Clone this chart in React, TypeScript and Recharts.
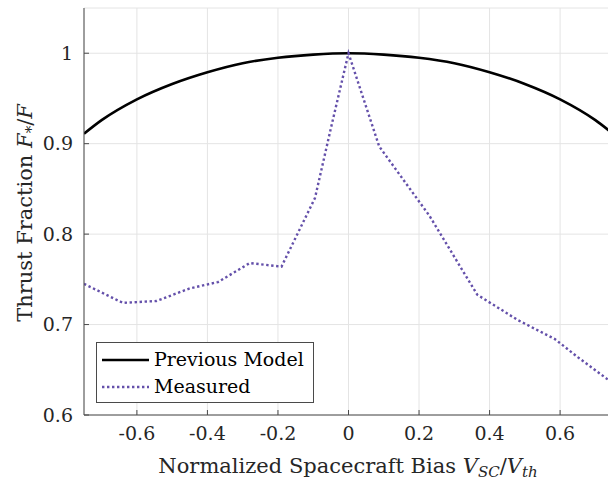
import React from "react";
import { LineChart, Line, XAxis, YAxis, CartesianGrid, Legend } from "recharts";

// values
const modelBias = [-0.75, -0.7, -0.6, -0.5, -0.4, -0.3, -0.2, -0.1, 0, 0.1, 0.2, 0.3, 0.4, 0.5, 0.6, 0.7, 0.75];
const modelFraction = [0.911, 0.926, 0.949, 0.966, 0.979, 0.989, 0.995, 0.9985, 1, 0.9985, 0.995, 0.989, 0.979, 0.966, 0.949, 0.926, 0.911];

const measuredBias = [-0.75, -0.64, -0.545, -0.45, -0.37, -0.28, -0.19, -0.095, -0.05, 0, 0.087, 0.23, 0.365, 0.48, 0.585, 0.65, 0.75];
const measuredFraction = [0.745, 0.724, 0.726, 0.74, 0.747, 0.768, 0.764, 0.84, 0.917, 1.0, 0.897, 0.82, 0.733, 0.705, 0.684, 0.664, 0.635];

const xTicks = [-0.6, -0.4, -0.2, 0, 0.2, 0.4, 0.6];
const yTicks = [0.6, 0.7, 0.8, 0.9, 1];
const seriesNames = ["Previous Model", "Measured"];

const modelData = modelBias.map((x, i) => ({ x, y: modelFraction[i] }));
const measuredData = measuredBias.map((x, i) => ({ x, y: measuredFraction[i] }));

const FONT = "DejaVu Serif";
const AXIS = "#4a4a4a";
const TEXT = "#262626";
const PURPLE = "#6450aa";

const fmtTick = (v: number) => (v === 1 ? "1" : v === 0 ? "0" : v.toFixed(1));

function XLabel() {
  return (
    <text x={348} y={473} textAnchor="middle" fontFamily={FONT} fontSize={21} fill={TEXT}>
      Normalized Spacecraft Bias{" "}
      <tspan fontStyle="italic">V</tspan>
      <tspan fontStyle="italic" fontSize={15} dy={4}>SC</tspan>
      <tspan dy={-4}>/</tspan>
      <tspan fontStyle="italic">V</tspan>
      <tspan fontStyle="italic" fontSize={15} dy={4}>th</tspan>
    </text>
  );
}

function YLabel() {
  return (
    <text
      x={32}
      y={213}
      transform="rotate(-90 32 213)"
      textAnchor="middle"
      fontFamily={FONT}
      fontSize={21}
      fill={TEXT}
    >
      Thrust Fraction <tspan fontStyle="italic">F</tspan>
      <tspan fontSize={15} dy={4}>*</tspan>
      <tspan dy={-4}>/</tspan>
      <tspan fontStyle="italic">F</tspan>
    </text>
  );
}

function LegendBox({ payload }: any) {
  const items = seriesNames
    .map((n) => (payload || []).find((p: any) => p.value === n))
    .filter(Boolean);
  return (
    <div
      style={{
        width: 218,
        height: 61,
        border: `1px solid ${AXIS}`,
        background: "#fff",
        fontFamily: FONT,
        fontSize: 19,
        color: "#000",
        paddingTop: 3,
        boxSizing: "border-box",
      }}
    >
      {items.map((p: any) => (
        <div key={p.value} style={{ display: "flex", alignItems: "center", height: 27 }}>
          <svg width={57} height={10} style={{ flex: "none" }}>
            <line
              x1={5}
              x2={52}
              y1={5}
              y2={5}
              stroke={p.color}
              strokeWidth={p.payload?.strokeWidth ?? 2}
              strokeDasharray={p.payload?.strokeDasharray}
            />
          </svg>
          <span style={{ lineHeight: "27px", whiteSpace: "nowrap" }}>{p.value}</span>
        </div>
      ))}
    </div>
  );
}

export default function App() {
  return (
    <div
      style={{
        position: "fixed",
        left: 0,
        top: 0,
        width: 608,
        height: 480,
        overflow: "hidden",
        background: "#fff",
      }}
    >
      <LineChart width={621} height={480} margin={{ top: 8, right: 0, bottom: 0, left: 0 }}>
        <CartesianGrid stroke="#e4e4e4" strokeWidth={1} />
        <XAxis
          dataKey="x"
          type="number"
          domain={[-0.75, 0.75]}
          ticks={xTicks}
          tickFormatter={fmtTick}
          allowDataOverflow
          height={65}
          stroke={AXIS}
          tickSize={-5}
          tickMargin={17}
          tick={{ fill: TEXT, fontSize: 19, fontFamily: FONT }}
          label={<XLabel />}
        />
        <XAxis
          xAxisId="top"
          orientation="top"
          dataKey="x"
          type="number"
          domain={[-0.75, 0.75]}
          ticks={xTicks}
          height={0}
          stroke={AXIS}
          tickSize={-5}
          tick={() => <g />}
        />
        <YAxis
          type="number"
          domain={[0.6, 1.05]}
          ticks={yTicks}
          tickFormatter={fmtTick}
          allowDataOverflow
          width={84}
          stroke={AXIS}
          tickSize={-5}
          tickMargin={16}
          tick={{ fill: TEXT, fontSize: 19, fontFamily: FONT }}
          label={<YLabel />}
        />
        <YAxis
          yAxisId="right"
          orientation="right"
          type="number"
          domain={[0.6, 1.05]}
          ticks={yTicks}
          width={8}
          stroke={AXIS}
          tickSize={-5}
          tick={() => <g />}
        />
        <Legend
          layout="vertical"
          align="center"
          verticalAlign="middle"
          wrapperStyle={{ position: "absolute", left: 96, top: 342, width: "auto" }}
          content={<LegendBox />}
        />
        <Line
          data={modelData}
          dataKey="y"
          name="Previous Model"
          type="monotone"
          stroke="#000"
          strokeWidth={2.6}
          dot={false}
          activeDot={false}
          isAnimationActive={false}
        />
        <Line
          data={measuredData}
          dataKey="y"
          name="Measured"
          type="linear"
          stroke={PURPLE}
          strokeWidth={2.4}
          strokeDasharray="2.4 2.6"
          dot={false}
          activeDot={false}
          isAnimationActive={false}
        />
      </LineChart>
    </div>
  );
}
